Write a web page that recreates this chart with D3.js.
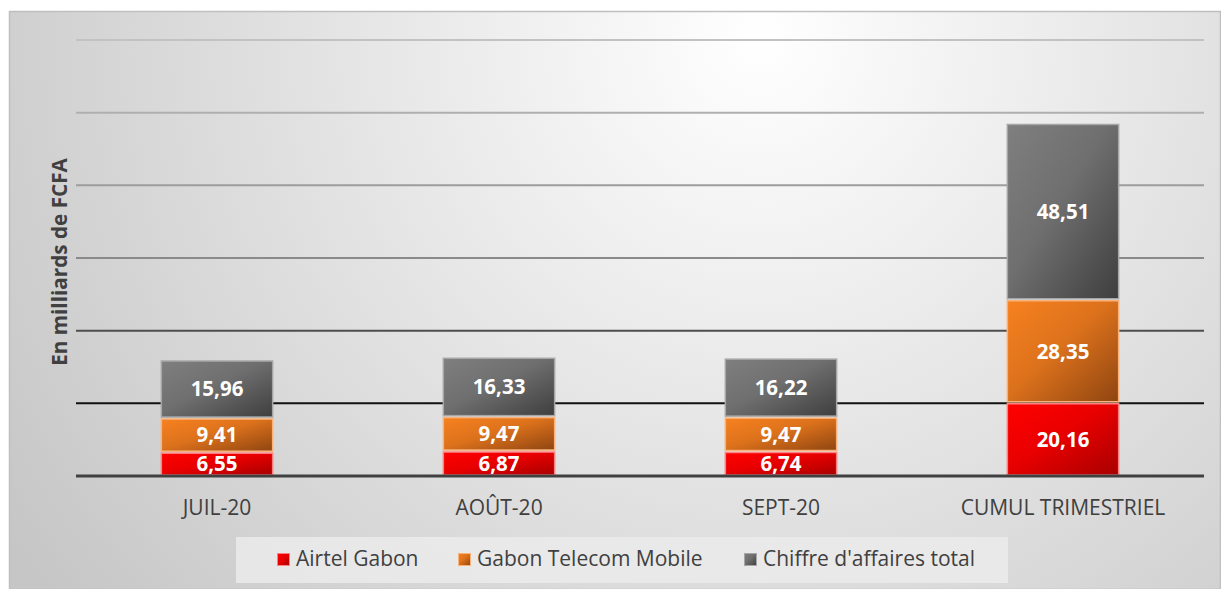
<!DOCTYPE html>
<html><head><meta charset="utf-8">
<script src="https://cdn.jsdelivr.net/npm/d3@7"></script>
<style>html,body{margin:0;padding:0;background:#fff;}svg{display:block;}</style>
</head><body>
<script>
const categories = ["JUIL-20", "AOÛT-20", "SEPT-20", "CUMUL TRIMESTRIEL"];
const seriesNames = ["Airtel Gabon", "Gabon Telecom Mobile", "Chiffre d'affaires total"];
const airtel = [6.55, 6.87, 6.74, 20.16];
const gtm = [9.41, 9.47, 9.47, 28.35];
const total = [15.96, 16.33, 16.22, 48.51];
const yTicks = [0, 20, 40, 60, 80, 100, 120];
const yTitle = "En milliards de FCFA";

const FONT = "'Open Sans', 'Noto Sans', sans-serif";
const W = 1221, H = 589;
const svg = d3.select("body").append("svg").attr("width", W).attr("height", H);
const defs = svg.append("defs");

const bg = defs.append("radialGradient").attr("id","bg").attr("gradientUnits","userSpaceOnUse")
  .attr("cx",760).attr("cy",40).attr("r",900);
bg.append("stop").attr("offset","0").attr("stop-color","#ffffff");
bg.append("stop").attr("offset","1").attr("stop-color","#c6c6c6");

const pal = [
  {a:"#ff0000", b:"#a80000", s:"#ff8080"},
  {a:"#f7811f", b:"#8f4511", s:"#f9b27a"},
  {a:"#7f7f7f", b:"#3e3e3e", s:"#a6a6a6"}
];
pal.forEach((p,i)=>{
  const g = defs.append("linearGradient").attr("id","g"+i).attr("x1","0").attr("y1","0").attr("x2","1").attr("y2","1");
  g.append("stop").attr("offset","0").attr("stop-color",p.a);
  g.append("stop").attr("offset","0.45").attr("stop-color",d3.interpolateRgb(p.a,p.b)(0.25));
  g.append("stop").attr("offset","1").attr("stop-color",p.b);
});

svg.append("rect").attr("x",9.5).attr("y",11.5).attr("width",W-10).attr("height",H-11)
  .attr("fill","url(#bg)").attr("stroke","#bfbfbf").attr("stroke-width",1.5);

const pL = 76, pR = 1204, pT = 40, pB = 476;
const x = d3.scaleBand().domain(categories).range([pL,pR]).paddingInner(0.6).paddingOuter(0.3);
const y = d3.scaleLinear().domain([0,120]).range([pB, pT]);

const gridCol = d3.scaleLinear().domain([120,60,20]).range(["#c2c2c2","#8a8a8a","#111111"]);
svg.append("g").selectAll("line").data(yTicks.filter(t=>t>0)).join("line")
  .attr("x1",pL).attr("x2",pR).attr("y1",d=>y(d)).attr("y2",d=>y(d))
  .attr("stroke",d=>gridCol(d)).attr("stroke-width",2);

const stackData = categories.map((c,i)=>({cat:c, v:[airtel[i], gtm[i], total[i]]}));
const bars = svg.append("g");
stackData.forEach(d=>{
  let acc = 0;
  d.v.forEach((v,j)=>{
    const y0 = y(acc), y1 = y(acc+v);
    acc += v;
    const bx = x(d.cat), bw = x.bandwidth();
    bars.append("rect").attr("x",bx+0.75).attr("y",y1+1).attr("width",bw-1.5).attr("height",Math.max(0,y0-y1-2))
      .attr("fill","url(#g"+j+")").attr("stroke",pal[j].s).attr("stroke-width",1.5);
    bars.append("text").attr("x",bx+bw/2).attr("y",(y0+y1)/2).attr("dy","0.36em")
      .attr("text-anchor","middle").attr("fill","#fff").attr("font-family",FONT)
      .attr("font-weight","bold").attr("font-size",20.5).text(d3.format(".2f")(v).replace(".",","));
  });
});

// baseline axis
svg.append("line").attr("x1",pL).attr("x2",pR).attr("y1",pB).attr("y2",pB)
  .attr("stroke","#404040").attr("stroke-width",3);

const xAxis = svg.append("g").attr("transform",`translate(0,${pB})`)
  .call(d3.axisBottom(x).tickSize(0).tickPadding(0));
xAxis.select(".domain").remove();
xAxis.selectAll("text").attr("y",39).attr("dy","0").attr("fill","#404040").attr("font-family",FONT).attr("font-size",21);

svg.append("text").attr("transform",`translate(67,262) rotate(-90)`)
  .attr("text-anchor","middle").attr("font-family",FONT).attr("font-weight","bold")
  .attr("font-size",20.7).attr("fill","#404040").text(yTitle);

// legend
const lg = svg.append("g");
lg.append("rect").attr("x",236).attr("y",537).attr("width",772).attr("height",46).attr("fill","#ebebeb").attr("opacity",0.85);
const legX = [277, 458, 744];
seriesNames.forEach((n,i)=>{
  lg.append("rect").attr("x",legX[i]+0.5).attr("y",553.5).attr("width",12).attr("height",12)
    .attr("fill","url(#g"+i+")").attr("stroke",pal[i].s).attr("stroke-width",1);
  lg.append("text").attr("x",legX[i]+19).attr("y",566).attr("font-family",FONT).attr("font-size",21)
    .attr("fill","#404040").text(n);
});
</script>
</body></html>
